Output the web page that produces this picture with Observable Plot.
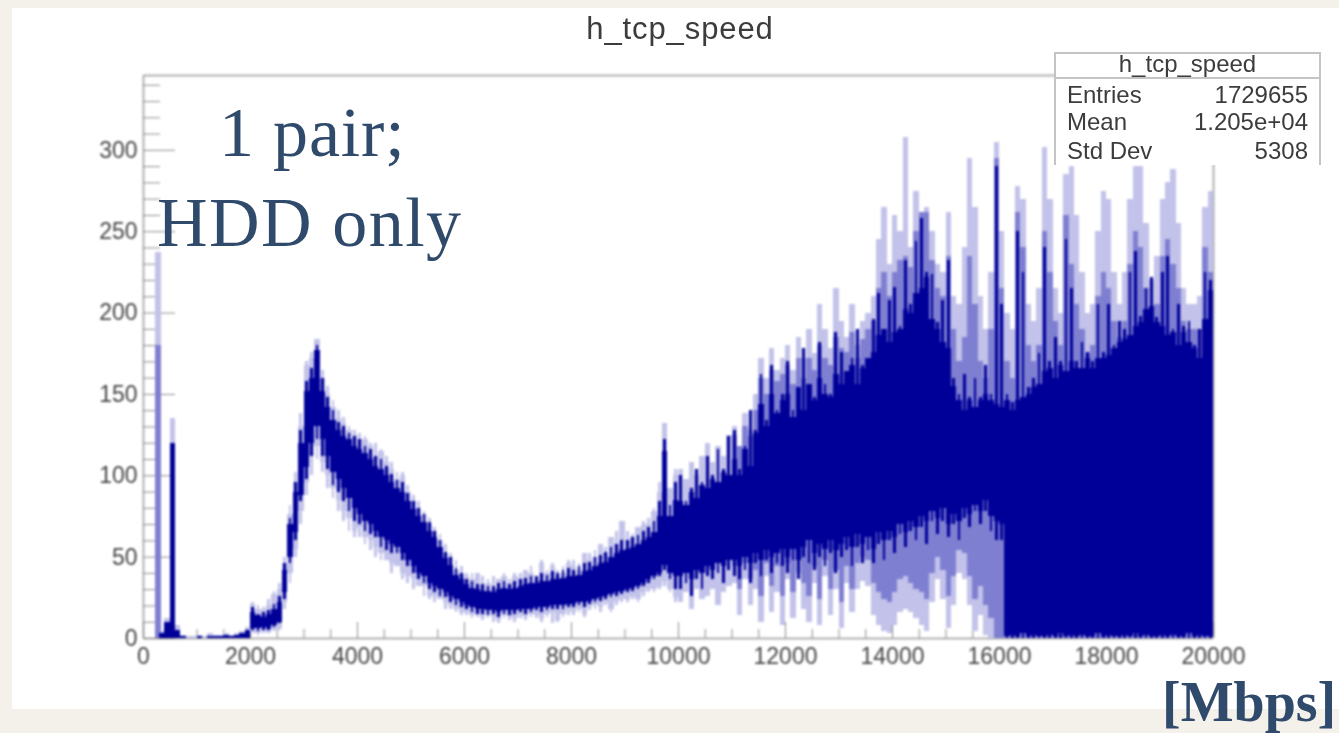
<!DOCTYPE html>
<html><head><meta charset="utf-8">
<script src="https://cdn.jsdelivr.net/npm/d3@7"></script>
<script src="https://cdn.jsdelivr.net/npm/@observablehq/plot@0.6"></script>
<style>
html,body{margin:0;padding:0;background:#f4f0ea;width:1339px;height:733px;overflow:hidden}
#sheet{position:absolute;left:12px;top:8px;width:1327px;height:701px;background:#fff}
#chart{position:absolute;left:0;top:0;filter:blur(0.8px)}
#chart svg{background:transparent;display:block}
.t{position:absolute;white-space:nowrap}
.root{font-family:"Liberation Sans",sans-serif;color:#3c3c3c;filter:blur(0.7px)}
.note{font-family:"Liberation Serif",serif;color:#2f4a6b}
#box{position:absolute;left:1054px;top:52px;width:267px;height:113px;background:#fff;border:2px solid #c4c4c4;border-bottom:none;box-sizing:border-box}
#boxline{position:absolute;left:1054px;top:77px;width:267px;height:2px;background:#c4c4c4}
</style></head><body>
<div id="sheet"></div>
<div id="chart"></div>
<div id="box"></div><div id="boxline"></div>
<div class="t root" style="left:0;width:1360px;text-align:center;top:11px;font-size:31px;letter-spacing:0.9px">h_tcp_speed</div>
<div class="t root" style="left:1054px;width:267px;text-align:center;top:50px;font-size:24px">h_tcp_speed</div>
<div class="t root" style="left:1067px;top:81px;font-size:24px">Entries</div>
<div class="t root" style="right:31px;top:81px;font-size:24px">1729655</div>
<div class="t root" style="left:1067px;top:108px;font-size:24px">Mean</div>
<div class="t root" style="right:31px;top:108px;font-size:24px">1.205e+04</div>
<div class="t root" style="left:1067px;top:137px;font-size:24px">Std Dev</div>
<div class="t root" style="right:31px;top:137px;font-size:24px">5308</div>
<div class="t note" style="left:219px;top:93px;font-size:70px;line-height:80px;letter-spacing:0.8px">1 pair;</div>
<div class="t note" style="left:157px;top:183px;font-size:70px;line-height:80px;letter-spacing:1.5px">HDD only</div>
<div class="t note" style="left:1162px;top:670px;font-size:56px;line-height:64px;font-weight:bold">[Mbps]</div>
<script>
const binWidth = 100;
const xMajor = [0,2000,4000,6000,8000,10000,12000,14000,16000,18000,20000];
const xMinor = [500,1000,1500,2500,3000,3500,4500,5000,5500,6500,7000,7500,8500,9000,9500,10500,11000,11500,12500,13000,13500,14500,15000,15500,16500,17000,17500,18500,19000,19500];
const yMajor = [0,50,100,150,200,250,300];
const yMinor = [10,20,30,40,60,70,80,90,110,120,130,140,160,170,180,190,210,220,230,240,260,270,280,290,310,320,330,340];

const paleHi = [
0,0,0,4,12,135,8,2,1,1,
2,1,3,2,2,3,2,3,4,7,
21,18,17,20,27,30,46,76,96,130,
168,172,184,160,150,142,135,132,128,125,
122,122,118,112,115,108,104,98,100,90,
84,80,76,70,66,60,52,50,42,40,
38,36,40,32,34,30,36,38,34,38,
36,42,40,36,46,40,44,38,40,46,
44,42,52,48,50,58,52,62,58,72,
60,62,68,70,70,78,90,132,92,100,
104,98,108,100,112,120,108,118,112,125,
130,118,138,128,150,172,160,178,165,172,
180,165,185,172,190,175,205,190,178,215,
195,185,205,180,195,200,210,245,265,230,
260,250,308,240,275,255,265,250,230,225,
262,210,205,240,295,265,210,190,225,305,
250,200,190,278,270,205,195,215,302,270,
215,200,285,290,260,225,200,205,250,275,
270,225,205,225,270,290,290,255,220,235,
270,280,288,255,215,205,205,210,265,275];

const paleLo = [
0,0,0,0,0,0,0,0,0,0,
0,0,0,0,0,0,0,0,0,0,
3,3,4,3,5,6,22,40,55,78,
95,112,118,108,100,92,85,78,74,66,
68,62,60,56,52,48,46,44,40,38,
36,32,32,26,26,24,22,20,18,16,
16,14,15,13,14,13,11,14,13,12,
14,13,15,14,12,15,16,11,15,17,
16,18,15,19,20,19,22,18,23,24,
24,26,24,28,30,30,32,35,30,25,
22,28,18,30,24,26,30,20,28,32,
34,14,36,20,30,10,38,16,28,8,
36,12,40,18,10,34,8,38,14,30,
6,34,16,30,35,32,14,8,4,3,
8,16,18,16,12,8,4,22,36,24,
6,20,40,36,20,4,14,2,0,0,
0,0,0,0,0,0,0,0,0,0,
0,0,0,0,0,0,0,0,0,0,
0,0,0,0,0,0,0,0,0,0,
0,0,0,0,0,0,0,0,0,0];

const darkHi = [
0,0,0,3,10,120,5,1,0,0,
1,0,1,1,1,2,1,2,3,5,
16,14,13,15,18,22,42,70,90,120,
152,160,177,152,142,134,128,124,122,118,
116,114,110,106,104,100,96,92,90,84,
79,75,71,66,62,56,49,45,39,36,
33,31,30,29,29,28,30,31,30,31,
32,33,34,34,35,35,36,36,37,38,
38,39,41,42,44,46,47,50,52,54,
55,56,58,60,62,65,75,115,75,85,
84,82,90,86,94,92,98,96,102,100,
110,100,116,106,126,144,130,150,138,146,
150,136,154,140,156,146,160,150,148,162,
156,164,168,156,166,172,176,186,190,182,
188,190,202,200,212,215,222,196,190,182,
178,155,146,140,146,142,146,150,146,144,
142,146,140,146,148,150,154,156,164,166,
160,168,164,170,166,166,172,166,172,172,
174,178,182,184,186,192,194,202,204,194,
192,186,188,180,188,182,178,172,196,214];

const darkLo = [
0,0,0,0,0,0,0,0,0,0,
0,0,0,0,0,0,0,0,0,0,
6,6,7,6,8,10,28,50,65,88,
105,120,130,122,112,102,98,92,86,80,
76,72,70,66,62,60,58,56,52,48,
44,40,38,34,32,30,28,26,24,22,
20,19,18,18,17,17,16,17,17,17,
18,18,18,19,19,19,20,20,20,21,
21,22,22,23,24,25,26,27,28,29,
30,31,32,34,36,38,40,45,40,38,
38,40,36,42,40,44,42,46,44,48,
48,44,50,46,52,48,54,50,52,55,
50,55,48,56,60,52,58,55,60,54,
58,62,56,64,58,62,55,65,60,66,
62,70,65,72,68,75,72,78,74,80,
70,76,72,80,76,82,78,85,75,72,
70,1,2,1,3,1,2,1,1,2,
1,3,1,2,1,2,1,1,3,1,
2,1,1,2,1,3,1,2,1,1,
2,1,2,1,1,3,1,2,1,1];

const midStartBin = 110;
const midHi = [
125,118,130,124,140,160,150,165,158,162,
168,156,172,160,172,165,180,172,168,185,
178,176,188,172,184,190,195,215,225,210,
225,232,235,228,250,262,262,232,215,210,
235,190,170,185,235,205,170,160,190,295,
215,170,160,262,240,180,170,180,250,225,
195,180,260,230,205,190,175,180,210,225,
215,195,185,195,230,250,240,215,200,205,
235,245,230,215,195,190,190,190,240,225];
const midLo = [
44,30,46,36,42,26,46,32,44,26,
46,28,48,34,26,44,24,48,30,42,
22,44,30,46,50,48,34,28,24,22,
28,36,38,34,30,28,24,40,50,42,
26,38,54,52,38,24,32,20,12,0,
0,0,0,0,0,0,0,0,0,0,
0,0,0,0,0,0,0,0,0,0,
0,0,0,0,0,0,0,0,0,0,
0,0,0,0,0,0,0,0,0,0];

// finer columns centred in each bin, from 2000 upward
const fineStartBin = 20;
const fineHi = [
19,15,16,17,21,26,46,74,96,128,
158,166,180,160,148,140,133,130,126,124,
122,118,116,112,110,106,101,97,96,89,
84,80,76,71,66,60,53,50,43,40,
36,35,33,33,32,32,34,35,33,35,
36,37,38,38,40,39,41,40,42,43,
42,44,46,47,50,51,53,56,58,60,
60,62,63,66,68,72,84,122,82,96,
100,84,92,104,96,112,100,116,104,124,
128,104,118,140,128,162,134,168,140,150,
170,140,152,178,150,148,182,156,150,188,
176,160,172,190,168,170,196,212,186,208,
216,192,232,205,244,258,225,224,194,208,
232,160,150,162,148,160,148,168,150,290,
205,150,145,250,225,154,160,175,240,170,
185,170,245,215,170,182,176,170,205,176,
205,180,195,190,225,238,198,215,222,197,
225,235,190,205,192,195,180,190,225,220];
const fineLo = [
5,4,5,5,7,9,24,46,60,84,
98,112,122,112,104,94,90,84,78,72,
70,66,64,62,56,54,52,52,48,44,
40,36,34,30,28,26,25,22,20,19,
18,16,15,15,14,15,13,15,14,15,
16,15,16,17,16,17,18,18,18,19,
19,20,19,21,22,23,24,25,26,27,
28,29,30,32,34,36,38,42,36,30,
30,34,26,36,30,38,36,40,34,42,
38,36,42,34,46,38,48,40,46,44,
40,48,36,50,46,42,50,44,52,40,
50,54,44,56,46,54,46,58,48,60,
52,64,56,66,60,68,58,72,64,72,
62,70,60,74,68,78,70,78,66,60,
60,0,0,0,0,0,0,0,0,0,
0,0,0,0,0,0,0,0,0,0,
0,0,0,0,0,0,0,0,0,0,
0,0,0,0,0,0,0,0,0,0];

// pale fringe of the narrow band, 2000 to 10000
const fringeHi = [
22,20,19,24,29,34,50,82,102,138,
170,176,182,165,155,146,140,136,130,128,
126,124,120,120,116,112,108,102,102,94,
88,84,78,74,68,64,58,52,48,44,
40,40,36,38,36,38,34,40,36,40,
40,38,44,38,48,42,46,42,44,48,
48,46,50,52,54,56,56,60,66,66,
66,64,68,72,74,80,96,128,88,104];
const fringeLo = [
3,2,3,3,4,5,18,34,50,70,
88,100,110,102,92,86,78,72,66,62,
62,58,54,50,48,50,40,44,36,34,
30,34,26,24,22,28,18,18,16,14,
14,12,13,11,12,10,9,12,11,10,
12,11,13,12,10,13,9,10,13,14,
14,16,13,17,18,16,20,16,20,22,
22,24,22,26,28,28,30,32,28,22];

// the narrow peak near 280 Mbps
const peakEdges = [225,335];
const peakPale = 237;
const peakMid = 180;

const cols = (hi,lo,start)=>hi.map((v,i)=>({a:(i+start)*binWidth,b:(i+start+1)*binWidth,lo:lo[i],hi:v}));
const fineCols = (hi,lo,start)=>hi.map((v,i)=>({a:(i+start+0.25)*binWidth,b:(i+start+0.75)*binWidth,lo:lo[i],hi:v}));
const pale = cols(paleHi,paleLo,0);
const mid = cols(midHi,midLo,midStartBin);
const dark = cols(darkHi,darkLo,0);
const fineDark = fineCols(fineHi,fineLo,fineStartBin);
const finePale = fineCols(fringeHi,fringeLo,fineStartBin);
const peak = v=>[{a:peakEdges[0],b:peakEdges[1],lo:0,hi:v}];

const bar = (data,fill)=>Plot.rectY(data,{x1:"a",x2:"b",y1:"lo",y2:"hi",fill,shapeRendering:"crispEdges"});
const axisFont = {fontFamily:"Liberation Sans, sans-serif"};
const tickGrey = "#8c8c8c";

const plot = Plot.plot({
  width:1339,height:733,
  marginLeft:143,marginRight:126,marginTop:75,marginBottom:95,
  style:{background:"transparent",...axisFont},
  x:{domain:[0,20000]},
  y:{domain:[0,346]},
  marks:[
    Plot.ruleX([0,20000],{stroke:"#b0b0b0",strokeWidth:2}),
    Plot.ruleY([0,346],{stroke:"#b0b0b0",strokeWidth:2}),
    Plot.axisX({ticks:xMajor,tickSize:-16,text:null,label:null,stroke:tickGrey}),
    Plot.axisX({ticks:xMinor,tickSize:-9,text:null,label:null,stroke:tickGrey}),
    Plot.axisY({ticks:yMajor,tickSize:-32,text:null,label:null,stroke:tickGrey}),
    Plot.axisY({ticks:yMinor,tickSize:-17,text:null,label:null,stroke:tickGrey}),
    Plot.axisX({ticks:xMajor,tickSize:0,tickPadding:9,fontSize:23,label:null,fill:"#444",tickFormat:d=>String(d)}),
    Plot.axisY({ticks:yMajor,tickSize:0,tickPadding:6,fontSize:23,label:null,fill:"#444",tickFormat:d=>String(d)}),
    bar(pale,"#c2c2ea"),
    bar(finePale,"#c2c2ea"),
    bar(peak(peakPale),"#c2c2ea"),
    bar(mid,"#7f7fd2"),
    bar(peak(peakMid),"#7f7fd2"),
    bar(dark,"#000099"),
    bar(fineDark,"#000099")
  ]
});
document.getElementById("chart").appendChild(plot);
</script>
</body></html>
